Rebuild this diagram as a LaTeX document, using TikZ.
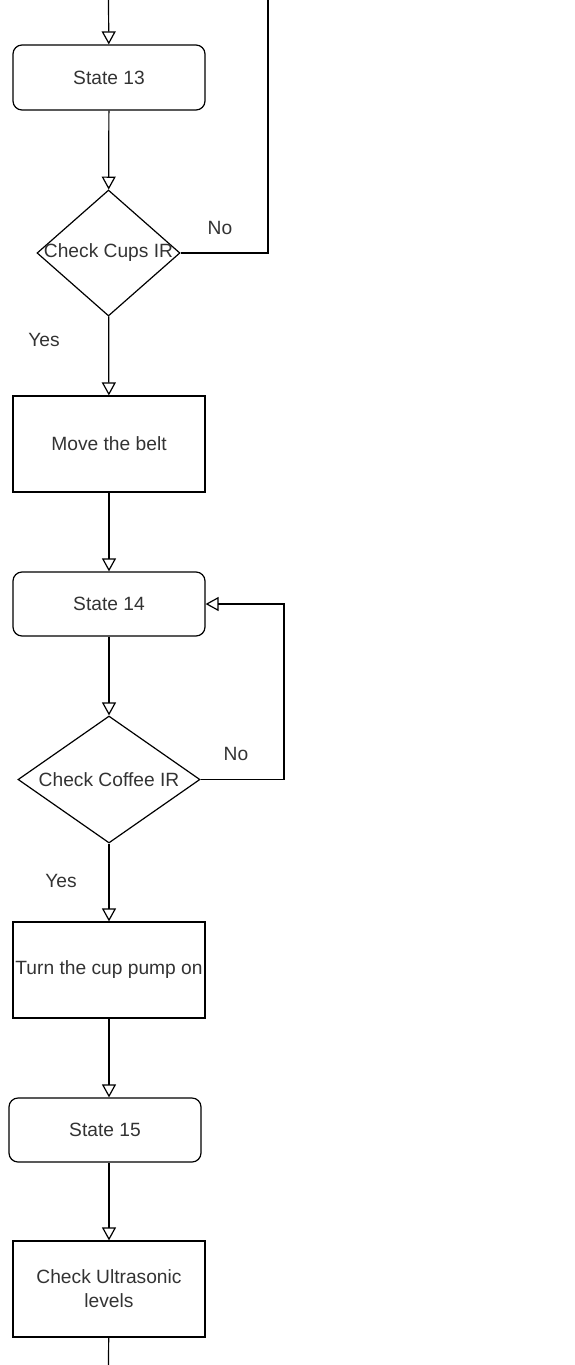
\documentclass[tikz,border=0pt]{standalone}
\usepackage{fontspec}
\setmainfont{Liberation Sans}
\usetikzlibrary{arrows.meta,shapes.geometric}

\tikzset{
  state/.style={draw, rounded corners=9pt, minimum width=192pt, minimum height=64pt, inner sep=0pt},
  process/.style={draw, minimum width=192pt, minimum height=96pt, inner sep=0pt, align=center},
  decision/.style={draw, diamond, inner sep=0pt},
  flow/.style={-{Triangle[open, length=13pt, width=14pt]}},
}

\begin{document}
\begin{tikzpicture}[x=1pt, y=-1pt, line width=1.2pt, text=black!80,
  font=\fontsize{19.2}{24}\selectfont]
\useasboundingbox (0, 0) rectangle (575, 1365);
% nodes
\node [state, minimum height=65pt] (s13) at (109, 77.5) {State 13};
\node [decision, minimum width=143pt, minimum height=126pt] (cups) at (108.5, 253) {\makebox[0pt]{Check Cups IR}};
\node [process] (belt) at (109, 444) {Move the belt};
\node [state] (s14) at (109, 604) {State 14};
\node [decision, minimum width=182pt, minimum height=127pt] (coffee) at (109, 779.5) {\makebox[0pt]{Check Coffee IR}};
\node [process] (pump) at (109, 970) {Turn the cup pump on};
\node [state] (s15) at (105, 1130) {State 15};
\node [process] (ultra) at (109, 1289) {Check Ultrasonic\\levels};
\node () at (220, 228) {No};
\node () at (44, 340) {Yes};
\node () at (236, 754) {No};
\node () at (61, 881) {Yes};
\coordinate (entry) at (108.5, 0);
\coordinate (back) at (268, 0);
\coordinate (loop) at (284, 779.5);
\coordinate (cont) at (108.5, 1365);
% connectors
\draw [flow] (entry) -- (s13);
\draw [flow] (s13) -- (cups);
\draw (cups.east) -| (back);
\draw [flow] (cups) -- (belt);
\draw [flow] (belt) -- (s14);
\draw [flow] (s14) -- (coffee);
\draw [flow] (coffee.east) -- (loop) |- (s14.east);
\draw [flow] (coffee) -- (pump);
\draw [flow] (pump.south) -- (pump.south |- s15.north);
\draw [flow] (pump.south |- s15.south) -- (ultra);
\draw (ultra) -- (cont);
\end{tikzpicture}
\end{document}
